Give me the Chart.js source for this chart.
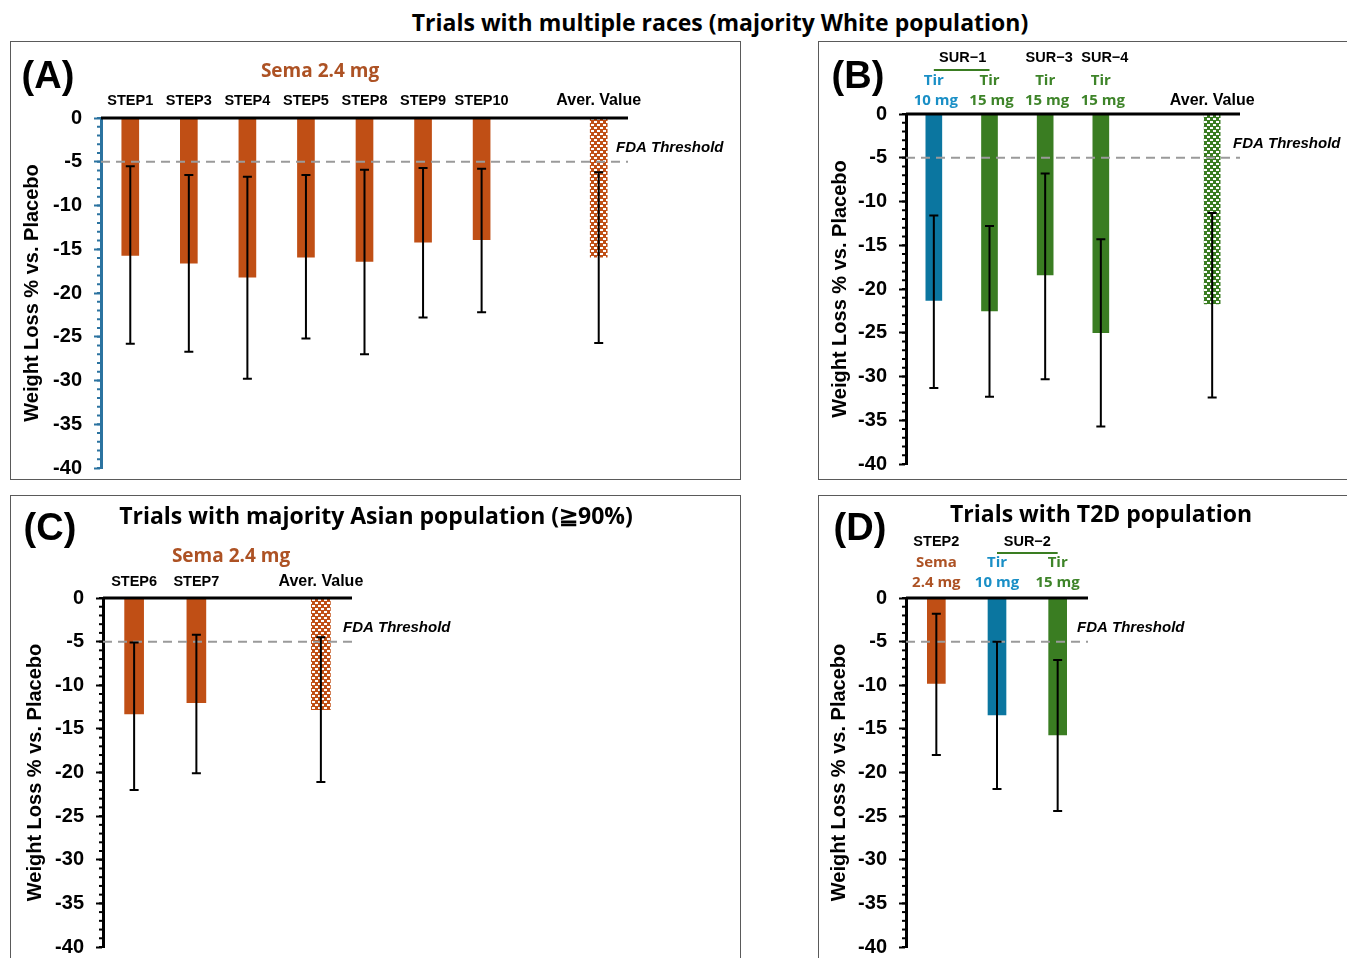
<!DOCTYPE html>
<html>
<head>
<meta charset="utf-8">
<script src="https://cdn.jsdelivr.net/npm/chart.js@4.4.1/dist/chart.umd.min.js"></script>
<style>
  body { margin:0; background:#fff; width:1347px; height:958px; overflow:hidden; position:relative; }
  .panel { position:absolute; border:1px solid #5a5a5a; box-sizing:border-box; overflow:hidden; }
  .panel canvas { position:absolute; left:0; top:0; }
  #mainTitle { position:absolute; left:0; width:1440px; top:6px; text-align:center;
    font:bold 23px "Open Sans", sans-serif; color:#000; white-space:nowrap; }
</style>
</head>
<body>
<div id="mainTitle">Trials with multiple races (majority White population)</div>
<div class="panel" style="left:10px;top:41px;width:731px;height:439px"><canvas id="chartA" width="729" height="450"></canvas></div>
<div class="panel" style="left:818px;top:41px;width:540px;height:439px"><canvas id="chartB" width="529" height="446"></canvas></div>
<div class="panel" style="left:10px;top:495px;width:731px;height:500px"><canvas id="chartC" width="729" height="475"></canvas></div>
<div class="panel" style="left:818px;top:495px;width:540px;height:500px"><canvas id="chartD" width="529" height="475"></canvas></div>
<script>
// ---- data: mean weight loss vs placebo (%) with 95% CI ends ----
// (A) multi-race trials, Sema 2.4 mg
const labelsA = ['STEP1', 'STEP3', 'STEP4', 'STEP5', 'STEP8', 'STEP9', 'STEP10', '', 'Aver. Value'];
const meanA = [-15.7, -16.6, -18.2, -15.9, -16.4, -14.2, -13.9, null, -15.9];
const hiA   = [-5.5, -6.5, -6.7, -6.5, -5.9, -5.7, -5.8, null, -6.2];
const loA   = [-25.8, -26.7, -29.8, -25.2, -27.0, -22.8, -22.2, null, -25.7];

// (B) multi-race trials, tirzepatide
const labelsB = ['SUR-1 10 mg', 'SUR-1 15 mg', 'SUR-3 15 mg', 'SUR-4 15 mg', '', 'Aver. Value'];
const meanB = [-21.3, -22.5, -18.4, -25.0, null, -21.7];
const hiB   = [-11.6, -12.8, -6.8, -14.3, null, -11.3];
const loB   = [-31.3, -32.3, -30.3, -35.7, null, -32.4];

// (C) Asian-majority trials, Sema 2.4 mg
const labelsC = ['STEP6', 'STEP7', '', 'Aver. Value'];
const meanC = [-13.3, -12.0, null, -12.8];
const hiC   = [-5.1, -4.2, null, -4.5];
const loC   = [-22.0, -20.1, null, -21.1];

// (D) T2D trials
const labelsD = ['STEP2 Sema 2.4 mg', 'SUR-2 Tir 10 mg', 'SUR-2 Tir 15 mg'];
const meanD = [-9.8, -13.4, -15.7];
const hiD   = [-1.8, -5.0, -7.1];
const loD   = [-18.0, -21.9, -24.4];

const FDA_LINE = -5;

const ORANGE = '#c04f15', BLUE = '#0b76a0', GREEN = '#3a7d22';
const SEMA_TXT = '#ad5224', TIR_BLUE_TXT = '#1a8fc6', TIR_GREEN_TXT = '#3e8429';
const SANS = '"Liberation Sans", Arial, sans-serif';
const OPEN = '"Open Sans", sans-serif';

// brick-like dotted fill for the average bars
function brick(color) {
  const c = document.createElement('canvas');
  c.width = 6; c.height = 6;
  const g = c.getContext('2d');
  g.fillStyle = color; g.fillRect(0, 0, 6, 6);
  g.fillStyle = '#fff';
  g.fillRect(1, 1, 3, 2);
  g.fillRect(4, 4, 3, 2);
  g.fillRect(0, 4, 1, 2);
  return g.createPattern(c, 'repeat');
}

function say(ctx, s, x, y, font, color, align) {
  ctx.font = font;
  ctx.fillStyle = color;
  ctx.textAlign = align || 'center';
  ctx.textBaseline = 'middle';
  ctx.fillText(s, x, y);
}

function underline(ctx, x1, x2, y) {
  ctx.strokeStyle = GREEN; ctx.lineWidth = 2;
  ctx.beginPath(); ctx.moveTo(x1, y); ctx.lineTo(x2, y); ctx.stroke();
}

// error bars, FDA line, zero line, minor ticks and header labels
function extrasFor(p) {
  return {
    id: 'extras',
    afterDatasetsDraw(chart) {
      const { ctx, chartArea: a, scales: { x, y } } = chart;
      ctx.save();
      // FDA threshold
      const yf = y.getPixelForValue(FDA_LINE);
      ctx.strokeStyle = '#9a9a9a'; ctx.lineWidth = 2; ctx.setLineDash([9, 6]);
      ctx.beginPath(); ctx.moveTo(a.left, yf); ctx.lineTo(a.right, yf); ctx.stroke();
      ctx.setLineDash([]);
      say(ctx, 'FDA Threshold', a.right - p.fdaIn, yf - 14, 'italic bold 15px ' + SANS, '#000', 'left');

      // CI whiskers
      ctx.strokeStyle = '#000'; ctx.lineWidth = 2;
      p.lo.forEach((lo, i) => {
        if (lo == null) return;
        const cx = x.getPixelForValue(i);
        const y1 = y.getPixelForValue(p.hi[i]), y2 = y.getPixelForValue(lo);
        ctx.beginPath();
        ctx.moveTo(cx, y1); ctx.lineTo(cx, y2);
        ctx.moveTo(cx - 4.5, y1); ctx.lineTo(cx + 4.5, y1);
        ctx.moveTo(cx - 4.5, y2); ctx.lineTo(cx + 4.5, y2);
        ctx.stroke();
      });

      // zero line on top
      const y0 = y.getPixelForValue(0);
      ctx.lineWidth = 3;
      ctx.beginPath(); ctx.moveTo(a.left, y0); ctx.lineTo(a.right, y0); ctx.stroke();

      // minor ticks, every 1 %
      ctx.strokeStyle = p.axisColor; ctx.lineWidth = 2;
      for (let v = -40; v <= 0; v++) {
        const yy = y.getPixelForValue(v);
        ctx.beginPath(); ctx.moveTo(a.left - 4, yy); ctx.lineTo(a.left, yy); ctx.stroke();
      }

      p.header(ctx, x);
      ctx.restore();
    }
  };
}

function makeChart(id, p) {
  return new Chart(document.getElementById(id), {
    type: 'bar',
    data: {
      labels: p.labels,
      datasets: [{ data: p.mean, backgroundColor: p.colors, barThickness: p.barW, borderWidth: 0 }]
    },
    options: {
      responsive: false,
      animation: false,
      layout: { padding: p.pad },
      plugins: { legend: { display: false }, tooltip: { enabled: false } },
      scales: {
        x: { display: false },
        y: {
          min: -40, max: 0,
          afterFit: s => { s.width = p.axisW; },
          ticks: { stepSize: 5, color: '#000', padding: 12, font: { family: SANS, size: 20, weight: 'bold' } },
          grid: { drawOnChartArea: false, tickLength: 7, tickWidth: 2, tickColor: p.axisColor },
          border: { color: p.axisColor, width: 3 },
          title: {
            display: true, text: 'Weight Loss % vs. Placebo', color: '#000',
            font: { family: SANS, size: 20, weight: 'bold' }, padding: { top: p.titleIn, bottom: 0 }
          }
        }
      }
    },
    plugins: [extrasFor(p)]
  });
}

const catFont = 'bold 14.5px ' + SANS;
const averFont = 'bold 16px ' + SANS;

makeChart('chartA', {
  labels: labelsA, mean: meanA, hi: hiA, lo: loA,
  colors: [ORANGE, ORANGE, ORANGE, ORANGE, ORANGE, ORANGE, ORANGE, ORANGE, brick(ORANGE)],
  barW: 17, axisW: 90, titleIn: 9, fdaIn: 12, axisColor: '#2b73a0',
  pad: { left: 0, top: 76, right: 112, bottom: 11 },
  header(ctx, x) {
    say(ctx, '(A)', 37, 36, 'bold 38px ' + SANS, '#000');
    say(ctx, 'Sema 2.4 mg', 309, 30, 'bold 19px ' + OPEN, SEMA_TXT);
    labelsA.forEach((s, i) => {
      if (s) say(ctx, s, x.getPixelForValue(i), 59, i === 8 ? averFont : catFont, '#000');
    });
  }
});

makeChart('chartB', {
  labels: labelsB, mean: meanB, hi: hiB, lo: loB,
  colors: [BLUE, GREEN, GREEN, GREEN, GREEN, brick(GREEN)],
  barW: 16, axisW: 87, titleIn: 9, fdaIn: 7, axisColor: '#000',
  pad: { left: 0, top: 72, right: 108, bottom: 15 },
  header(ctx, x) {
    say(ctx, '(B)', 39, 36, 'bold 38px ' + SANS, '#000');
    const c = i => x.getPixelForValue(i);
    say(ctx, 'SUR\u22121', (c(0) + c(1)) / 2 + 1, 16, catFont, '#000');
    underline(ctx, c(0), c(1), 28);
    say(ctx, 'SUR\u22123', c(2) + 4, 16, catFont, '#000');
    say(ctx, 'SUR\u22124', c(3) + 4, 16, catFont, '#000');
    const cols = [TIR_BLUE_TXT, TIR_GREEN_TXT, TIR_GREEN_TXT, TIR_GREEN_TXT];
    const dose = ['10 mg', '15 mg', '15 mg', '15 mg'];
    for (let i = 0; i < 4; i++) {
      say(ctx, 'Tir', c(i), 39, 'bold 15px ' + OPEN, cols[i]);
      say(ctx, dose[i], c(i) + 2, 59, 'bold 15px ' + OPEN, cols[i]);
    }
    say(ctx, labelsB[5], c(5), 59, averFont, '#000');
  }
});

makeChart('chartC', {
  labels: labelsC, mean: meanC, hi: hiC, lo: loC,
  colors: [ORANGE, ORANGE, ORANGE, brick(ORANGE)],
  barW: 19, axisW: 92, titleIn: 12, fdaIn: 9, axisColor: '#000',
  pad: { left: 0, top: 102, right: 388, bottom: 12 },
  header(ctx, x) {
    say(ctx, '(C)', 39, 34, 'bold 38px ' + SANS, '#000');
    say(ctx, 'Trials with majority Asian population (\u226790%)', 365, 21, 'bold 23px ' + OPEN, '#000');
    say(ctx, 'Sema 2.4 mg', 220, 61, 'bold 19px ' + OPEN, SEMA_TXT);
    labelsC.forEach((s, i) => {
      if (s) say(ctx, s, x.getPixelForValue(i), 86, i === 3 ? averFont : catFont, '#000');
    });
  }
});

makeChart('chartD', {
  labels: labelsD, mean: meanD, hi: hiD, lo: loD,
  colors: [ORANGE, BLUE, GREEN],
  barW: 18, axisW: 87, titleIn: 8, fdaIn: 11, axisColor: '#000',
  pad: { left: 0, top: 102, right: 260, bottom: 12 },
  header(ctx, x) {
    const c = i => x.getPixelForValue(i);
    say(ctx, '(D)', 41, 34, 'bold 38px ' + SANS, '#000');
    say(ctx, 'Trials with T2D population', 282, 19, 'bold 23px ' + OPEN, '#000');
    say(ctx, 'STEP2', c(0), 46, catFont, '#000');
    say(ctx, 'SUR\u22122', (c(1) + c(2)) / 2, 46, catFont, '#000');
    underline(ctx, c(1), c(2), 57);
    say(ctx, 'Sema', c(0), 67, 'bold 15px ' + OPEN, SEMA_TXT);
    say(ctx, '2.4 mg', c(0), 87, 'bold 15px ' + OPEN, SEMA_TXT);
    say(ctx, 'Tir', c(1), 67, 'bold 15px ' + OPEN, TIR_BLUE_TXT);
    say(ctx, '10 mg', c(1), 87, 'bold 15px ' + OPEN, TIR_BLUE_TXT);
    say(ctx, 'Tir', c(2), 67, 'bold 15px ' + OPEN, TIR_GREEN_TXT);
    say(ctx, '15 mg', c(2), 87, 'bold 15px ' + OPEN, TIR_GREEN_TXT);
  }
});
</script>
</body>
</html>
